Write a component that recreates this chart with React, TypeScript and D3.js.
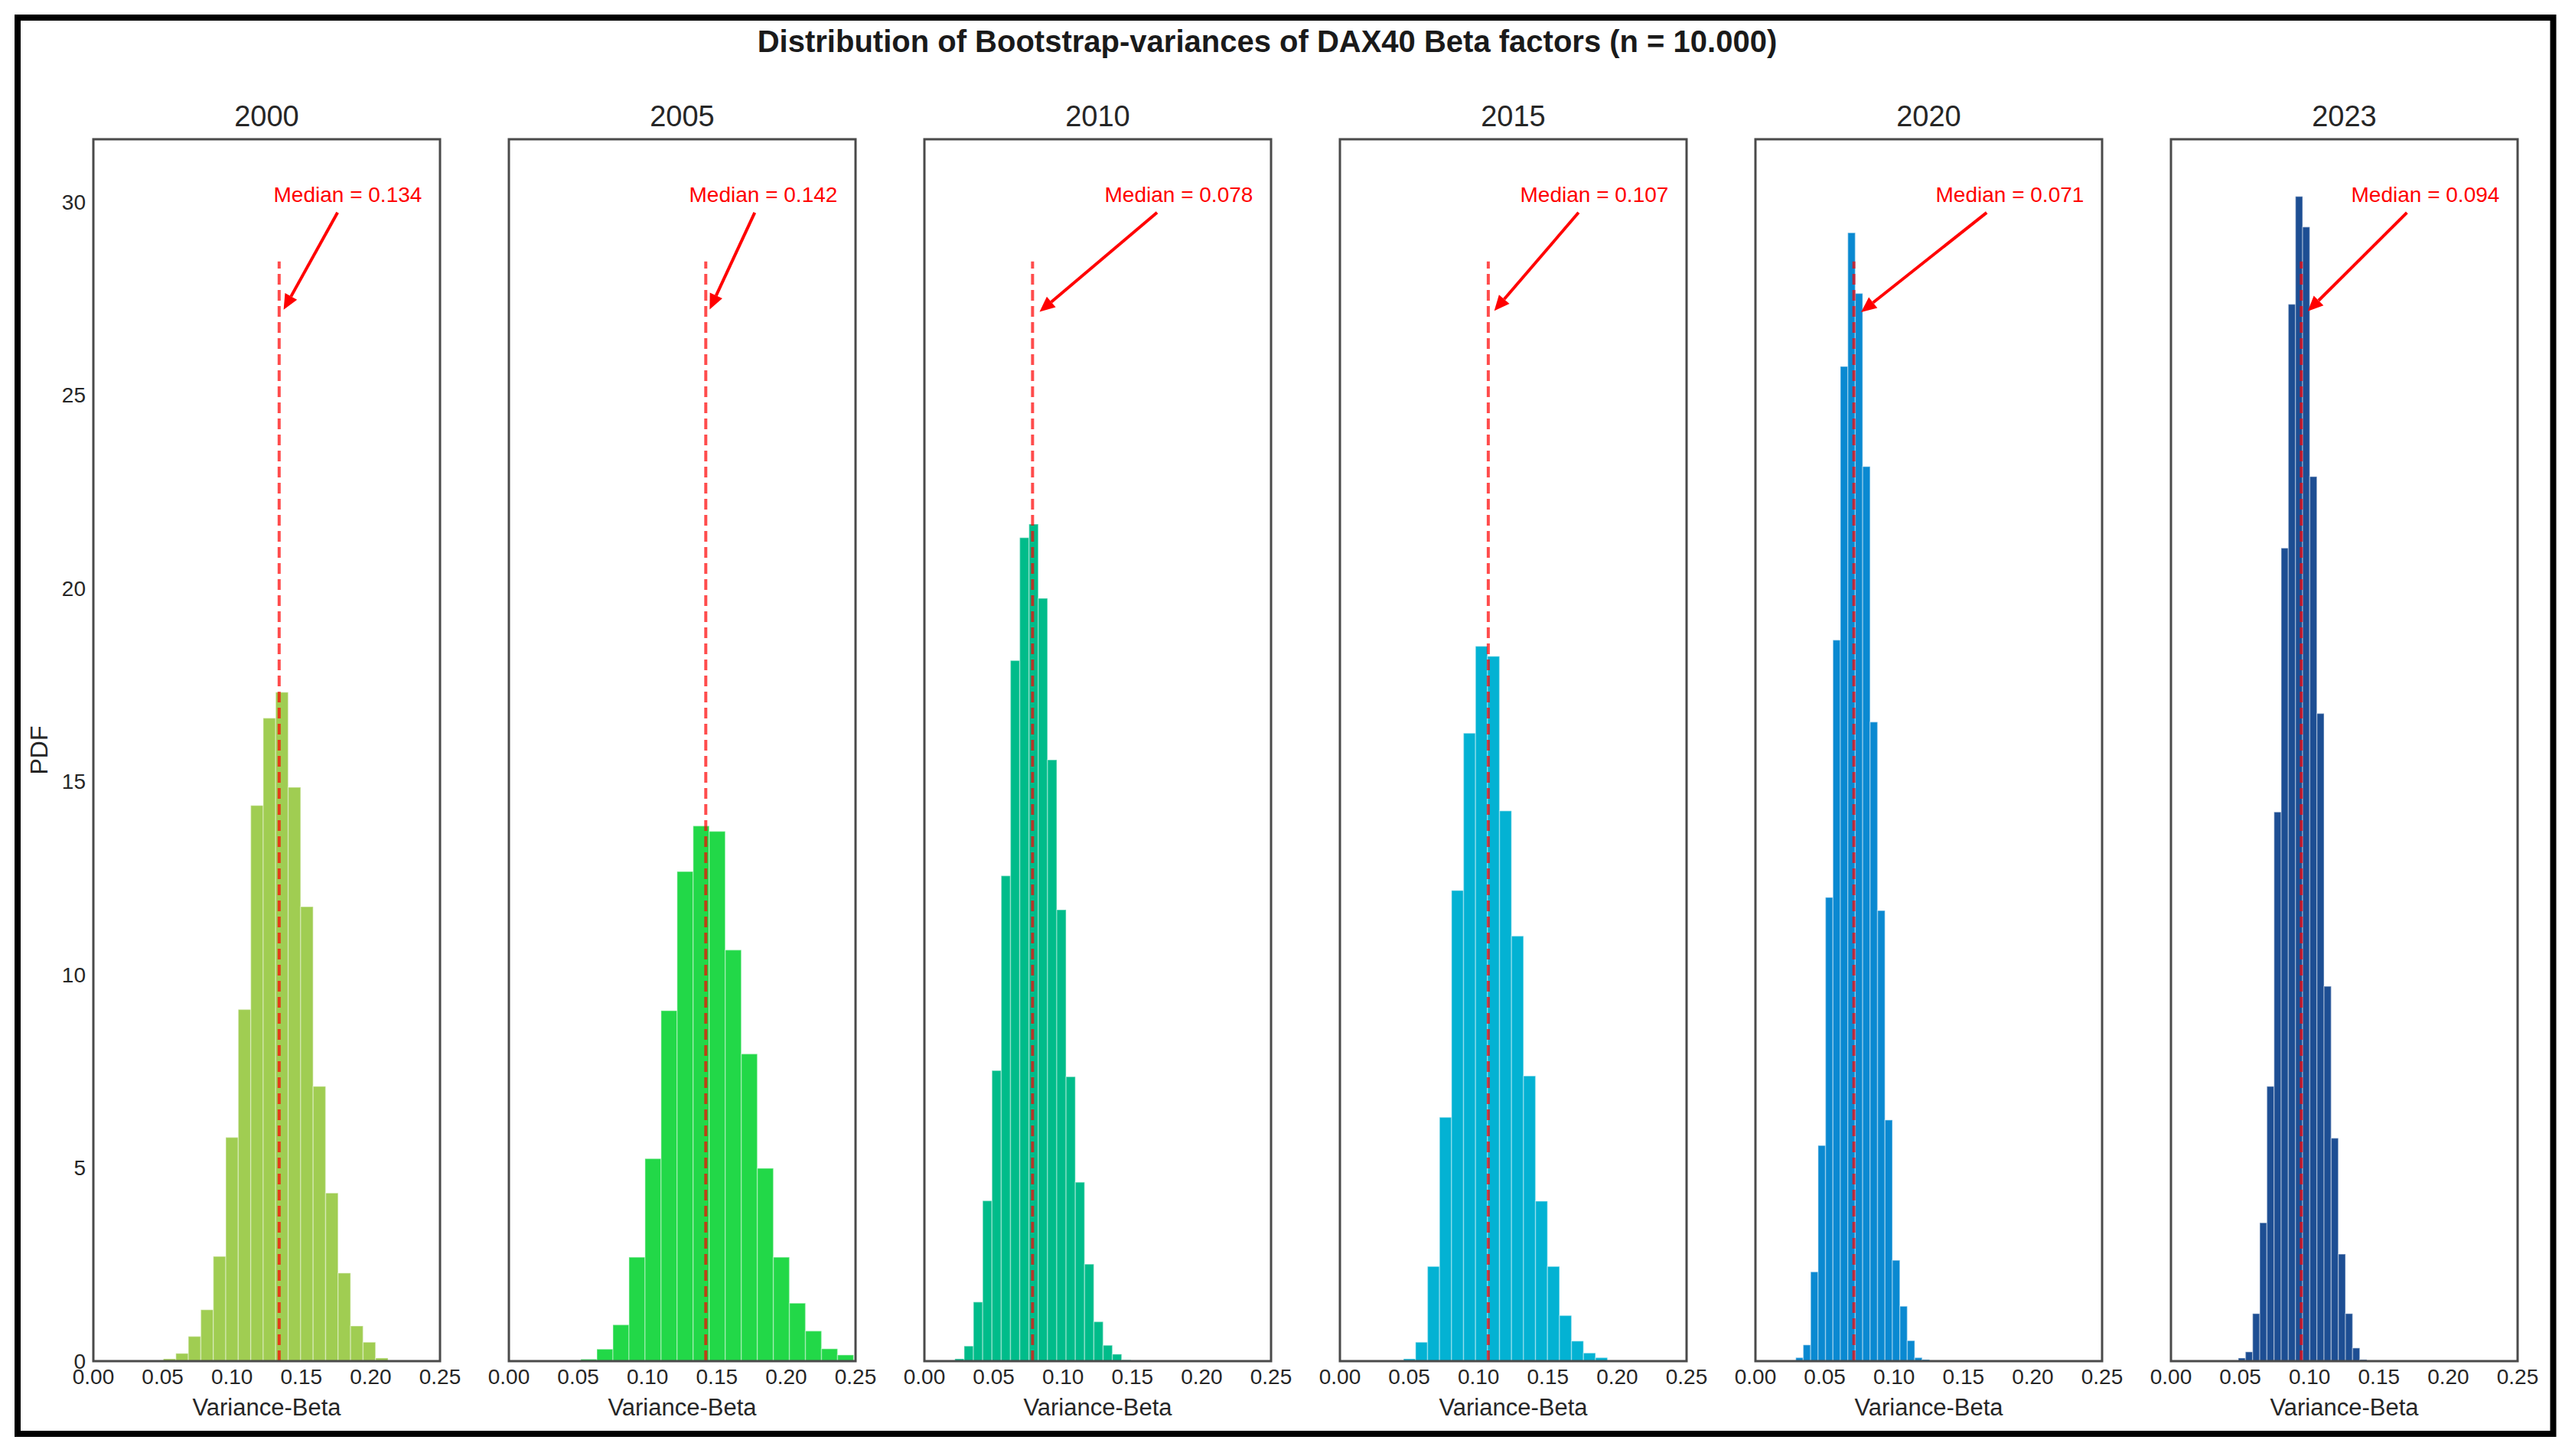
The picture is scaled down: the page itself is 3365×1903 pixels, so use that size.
import React from 'react';
import * as d3 from 'd3';

const years = ['2000', '2005', '2010', '2015', '2020', '2023'];
const medians = [0.134, 0.142, 0.078, 0.107, 0.071, 0.094];
const colors = ['#a0cd52', '#22d848', '#00bc8a', '#03b2d3', '#0a89d1', '#1d4e93'];

// histogram bins: first edge and bin width per year
const binStarts = [0.0505, 0.0519, 0.022, 0.0459, 0.0291, 0.0486];
const binWidths = [0.009, 0.01157, 0.00668, 0.00865, 0.00536, 0.00515];

const density2000 = [0.06, 0.2, 0.64, 1.33, 2.71, 5.79, 9.1, 14.38, 16.64, 17.31, 14.85, 11.76, 7.11, 4.35, 2.28, 0.91, 0.49, 0.08];
const density2005 = [0.05, 0.31, 0.94, 2.69, 5.24, 9.07, 12.67, 13.85, 13.71, 10.64, 7.95, 4.99, 2.69, 1.5, 0.78, 0.32, 0.16];
const density2010 = [0.06, 0.39, 1.53, 4.15, 7.52, 12.56, 18.13, 21.31, 21.66, 19.74, 15.56, 11.68, 7.36, 4.63, 2.51, 1.02, 0.41, 0.18, 0.03];
const density2015 = [0.06, 0.49, 2.45, 6.31, 12.18, 16.25, 18.5, 18.24, 14.24, 11.0, 7.38, 4.14, 2.45, 1.18, 0.52, 0.21, 0.09];
const density2020 = [0.09, 0.42, 2.31, 5.58, 12.0, 18.66, 25.74, 29.2, 27.63, 23.15, 16.54, 11.66, 6.24, 2.61, 1.42, 0.53, 0.09, 0.04];
const density2023 = [0.08, 0.24, 1.23, 3.58, 7.11, 14.21, 21.04, 27.35, 30.14, 29.35, 22.89, 16.76, 9.7, 5.77, 2.77, 1.23, 0.34, 0.04];
const densities = [density2000, density2005, density2010, density2015, density2020, density2023];

const xTicks = [0, 0.05, 0.1, 0.15, 0.2, 0.25];
const yTicks = [0, 5, 10, 15, 20, 25, 30];
const X_DOMAIN: [number, number] = [0, 0.25];
const Y_MAX = 31.62;
const TITLE = 'Distribution of Bootstrap-variances of DAX40 Beta factors (n = 10.000)';
const X_LABEL = 'Variance-Beta';
const Y_LABEL = 'PDF';
const TEXT_X = 0.13;
const TEXT_Y = 30;
const ARROW_Y = 27;

export default function App() {
  const W = 3365;
  const H = 1903;
  const top = 182;
  const bottom = 1779;
  const panelW = 453;
  const left0 = 122;
  const step = 543;
  const font = "'Liberation Sans', Arial, Helvetica, sans-serif";
  const textColor = '#262626';
  const y = d3.scaleLinear().domain([0, Y_MAX]).range([bottom, top]);
  const tickFmt = d3.format('.2f');

  return (
    <svg
      width={W}
      height={H}
      viewBox={`0 0 ${W} ${H}`}
      style={{ position: 'absolute', left: 0, top: 0, display: 'block', background: '#fff' }}
      fontFamily={font}
    >
      <rect x={0} y={0} width={W} height={H} fill="#fff" />
      <rect x={23} y={23} width={3313.5} height={1851} fill="none" stroke="#000" strokeWidth={8} />
      <text x={1656} y={68} textAnchor="middle" fontSize={40} fontWeight="bold" fill="#1a1a1a">
        {TITLE}
      </text>
      <text
        transform={`translate(62, ${(top + bottom) / 2}) rotate(-90)`}
        textAnchor="middle"
        fontSize={32}
        fill={textColor}
      >
        {Y_LABEL}
      </text>
      {years.map((yr, i) => {
        const left = left0 + i * step;
        const x = d3.scaleLinear().domain(X_DOMAIN).range([left, left + panelW]);
        const dens = densities[i];
        const med = medians[i];
        const fs = 28;
        const tx0 = x(TEXT_X);
        const tw = 6.921 * fs;
        const tcx = tx0 + tw / 2;
        const tcy = y(TEXT_Y) - 10;
        const bboxBottom = y(TEXT_Y) + 14;
        const tX = x(med);
        const tY = y(ARROW_Y);
        const dx = tX - tcx;
        const dy = tY - tcy;
        const t = (bboxBottom - tcy) / dy;
        const sx = tcx + dx * t;
        const sy = bboxBottom;
        const len = Math.hypot(tX - sx, tY - sy);
        const ux = (tX - sx) / len;
        const uy = (tY - sy) / len;
        const ex = tX - ux * 12;
        const ey = tY - uy * 12;
        const hl = 20;
        const hw = 9;
        const bx = ex - ux * hl;
        const by = ey - uy * hl;
        const px = -uy;
        const py = ux;
        return (
          <g key={yr}>
            <text x={left + panelW / 2} y={165} textAnchor="middle" fontSize={38} fill={textColor}>
              {yr}
            </text>
            {dens.map((d, j) => {
              const x0 = binStarts[i] + j * binWidths[i];
              const x1 = x0 + binWidths[i];
              return (
                <rect
                  key={j}
                  x={x(x0)}
                  y={y(d)}
                  width={x(x1) - x(x0)}
                  height={y(0) - y(d)}
                  fill={colors[i]}
                  stroke="#ffffff"
                  strokeOpacity={0.35}
                  strokeWidth={1.5}
                />
              );
            })}
            <line
              x1={x(med)}
              x2={x(med)}
              y1={y(0)}
              y2={y(0.9 * Y_MAX)}
              stroke="#ff0000"
              strokeOpacity={0.7}
              strokeWidth={4}
              strokeDasharray="14 7"
            />
            <rect x={left} y={top} width={panelW} height={bottom - top} fill="none" stroke="#4a4a4a" strokeWidth={3} />
            {xTicks.map((v) => (
              <text key={v} x={x(v)} y={1809} textAnchor="middle" fontSize={28} fill={textColor}>
                {tickFmt(v)}
              </text>
            ))}
            {i === 0 &&
              yTicks.map((v) => (
                <text key={v} x={left - 10} y={y(v) + 10} textAnchor="end" fontSize={28} fill={textColor}>
                  {v}
                </text>
              ))}
            <text x={left + panelW / 2} y={1850} textAnchor="middle" fontSize={31} fill={textColor}>
              {X_LABEL}
            </text>
            <text x={tx0} y={y(TEXT_Y)} fontSize={fs} fill="#ff0000">
              {`Median = ${med.toFixed(3)}`}
            </text>
            <line x1={sx} y1={sy} x2={bx} y2={by} stroke="#ff0000" strokeWidth={4} />
            <polygon
              points={`${ex},${ey} ${bx + px * hw},${by + py * hw} ${bx - px * hw},${by - py * hw}`}
              fill="#ff0000"
            />
          </g>
        );
      })}
    </svg>
  );
}
